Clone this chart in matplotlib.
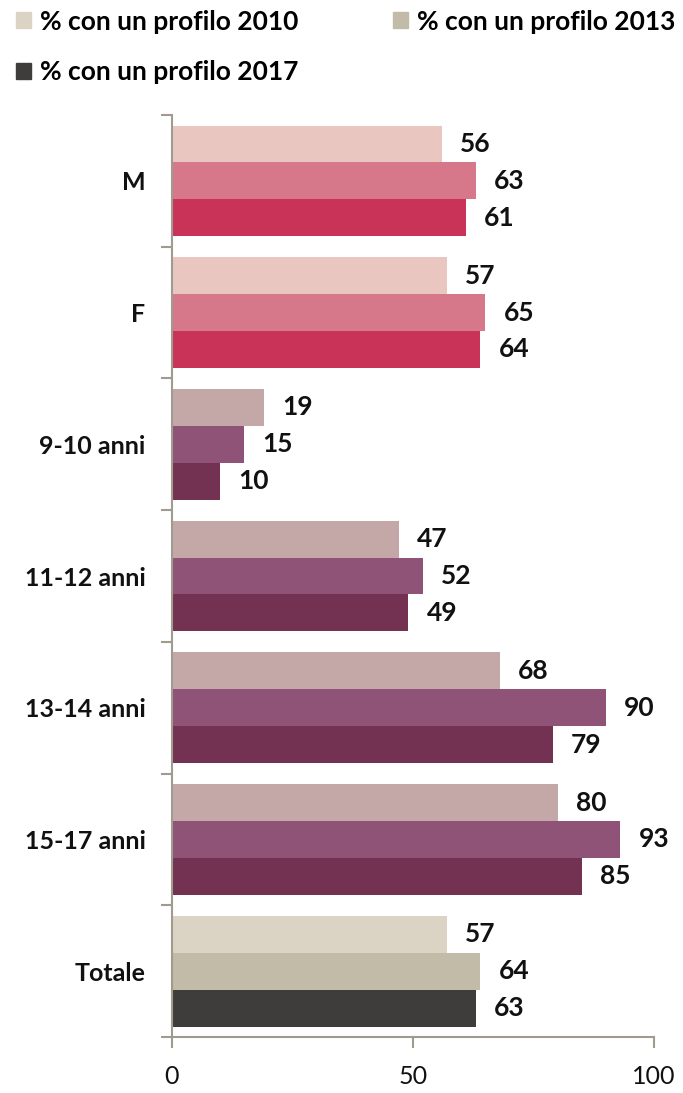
import numpy as np
import matplotlib.pyplot as plt
from matplotlib.patches import Patch

plt.rcParams['font.family'] = ['Lato', 'DejaVu Sans']

categories = ["M", "F", "9-10 anni", "11-12 anni", "13-14 anni", "15-17 anni", "Totale"]
years = ["2010", "2013", "2017"]
v2010 = [56, 57, 19, 47, 68, 80, 57]
v2013 = [63, 65, 15, 52, 90, 93, 64]
v2017 = [61, 64, 10, 49, 79, 85, 63]

# colours per group: (2010, 2013, 2017)
pink = ("#EAC6C1", "#D6788A", "#C93357")
purple = ("#C4A8A8", "#8E5376", "#733251")
grey = ("#DBD4C4", "#C2BBA8", "#3F3D3B")
group_colors = [pink, pink, purple, purple, purple, purple, grey]

fig = plt.figure(figsize=(6.83, 10.93), dpi=100)
ax = fig.add_axes([0.2518, 0.0512, 0.7057, 0.8436])

y = np.arange(len(categories))
h = 0.28
series = [v2010, v2013, v2017]
for k, vals in enumerate(series):
    cols = [gc[k] for gc in group_colors]
    pos = y + (k - 1) * h
    ax.barh(pos, vals, height=h, color=cols, edgecolor='none')
    for p, v in zip(pos, vals):
        ax.text(v + 3.8, p, str(v), va='center', ha='left', fontsize=19,
                fontweight='bold', color='#111111')

ax.set_xlim(0, 100)
ax.set_ylim(len(categories) - 0.5, -0.5)
ax.set_xticks([0, 50, 100])
ax.tick_params(axis='x', labelsize=18, length=8, width=1.5, color='#A09B8F',
               pad=12, labelcolor='#111111')
ax.set_yticks(y)
ax.set_yticklabels(categories, fontsize=18, fontweight='bold', color='#111111')
ax.set_yticks(np.arange(-0.5, len(categories)), minor=True)
ax.tick_params(axis='y', which='major', length=0, pad=19)
ax.tick_params(axis='y', which='minor', length=8, width=1.5, color='#A09B8F')

for s in ['top', 'right']:
    ax.spines[s].set_visible(False)
for s in ['left', 'bottom']:
    ax.spines[s].set_color('#A09B8F')
    ax.spines[s].set_linewidth(1.5)

handles = [Patch(color=grey[0]), Patch(color=grey[2]), Patch(color=grey[1])]
labels = ["% con un profilo " + years[0], "% con un profilo " + years[2],
          "% con un profilo " + years[1]]
fig.legend(handles, labels, loc='upper left', bbox_to_anchor=(-0.011, 1.013), ncol=2,
           frameon=False, prop={'size': 19, 'weight': 'bold'}, handlelength=0.55,
           handleheight=0.55, handletextpad=0.35, labelspacing=1.0, columnspacing=3.6)

fig.savefig("out.png", dpi=100)
